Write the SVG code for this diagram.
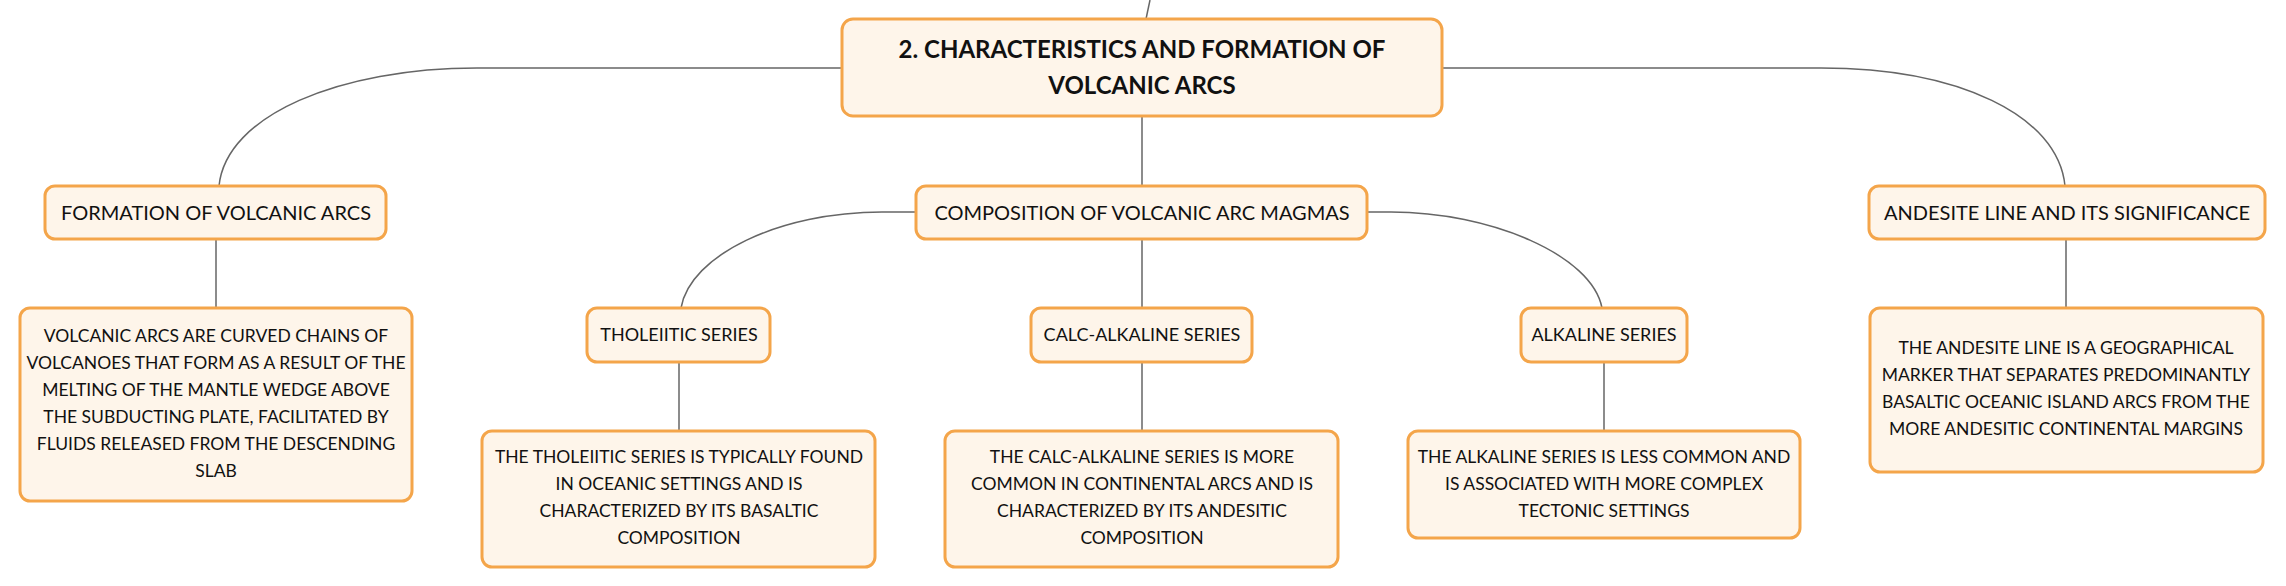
<svg xmlns="http://www.w3.org/2000/svg" width="2286" height="586" viewBox="0 0 2286 586">
<defs>
<style>
.box{fill:#FEF5EA;stroke:#F4A54A;stroke-width:3}
.t{font-family:Lato,"Open Sans",sans-serif;fill:#111;text-anchor:middle}
.root{font-size:24px;font-weight:bold}
.l2{font-size:20px}
.l3{font-size:18px}
.d{font-size:17.5px}
.c{fill:none;stroke:#666;stroke-width:1.5}
</style>
</defs>
<rect width="2286" height="586" fill="#fff"/>
<g id="connectors">
<path class="c" d="M1150,0 L1146,19"/>
<path class="c" d="M842,68 H477 C340,68 226,115 219,186"/>
<path class="c" d="M1442,68 H1821 C1958,68 2058,115 2065,186"/>
<path class="c" d="M1142,116 V186"/>
<path class="c" d="M216,239 V308"/>
<path class="c" d="M2066,239 V308"/>
<path class="c" d="M916,212 H882 C780,212 690,255 681,308"/>
<path class="c" d="M1367,212 H1391 C1490,212 1592,255 1602,308"/>
<path class="c" d="M1142,239 V308"/>
<path class="c" d="M679,362 V431"/>
<path class="c" d="M1142,362 V431"/>
<path class="c" d="M1604,362 V431"/>
</g>
<g id="root">
<rect class="box" x="842" y="19" width="600" height="97" rx="11"/>
<text class="t root" x="1142" y="58">2. CHARACTERISTICS AND FORMATION OF</text>
<text class="t root" x="1142" y="94">VOLCANIC ARCS</text>
</g>
<g id="formation">
<rect class="box" x="45" y="186" width="341" height="53" rx="10"/>
<text class="t l2" x="216" y="220">FORMATION OF VOLCANIC ARCS</text>
</g>
<g id="composition">
<rect class="box" x="916" y="186" width="451" height="53" rx="10"/>
<text class="t l2" x="1142" y="220">COMPOSITION OF VOLCANIC ARC MAGMAS</text>
</g>
<g id="andesite">
<rect class="box" x="1869" y="186" width="396" height="53" rx="10"/>
<text class="t l2" x="2067" y="220">ANDESITE LINE AND ITS SIGNIFICANCE</text>
</g>
<g id="formation-desc">
<rect class="box" x="20" y="308" width="392" height="193" rx="10"/>
<text class="t d" x="216" y="342">VOLCANIC ARCS ARE CURVED CHAINS OF</text>
<text class="t d" x="216" y="369">VOLCANOES THAT FORM AS A RESULT OF THE</text>
<text class="t d" x="216" y="396">MELTING OF THE MANTLE WEDGE ABOVE</text>
<text class="t d" x="216" y="423">THE SUBDUCTING PLATE, FACILITATED BY</text>
<text class="t d" x="216" y="450">FLUIDS RELEASED FROM THE DESCENDING</text>
<text class="t d" x="216" y="477">SLAB</text>
</g>
<g id="andesite-desc">
<rect class="box" x="1870" y="308" width="393" height="164" rx="10"/>
<text class="t d" x="2066" y="354">THE ANDESITE LINE IS A GEOGRAPHICAL</text>
<text class="t d" x="2066" y="381">MARKER THAT SEPARATES PREDOMINANTLY</text>
<text class="t d" x="2066" y="408">BASALTIC OCEANIC ISLAND ARCS FROM THE</text>
<text class="t d" x="2066" y="435">MORE ANDESITIC CONTINENTAL MARGINS</text>
</g>
<g id="tholeiitic">
<rect class="box" x="587" y="308" width="183" height="54" rx="10"/>
<text class="t l3" x="679" y="341">THOLEIITIC SERIES</text>
</g>
<g id="calc-alkaline">
<rect class="box" x="1031" y="308" width="221" height="54" rx="10"/>
<text class="t l3" x="1142" y="341">CALC-ALKALINE SERIES</text>
</g>
<g id="alkaline">
<rect class="box" x="1521" y="308" width="166" height="54" rx="10"/>
<text class="t l3" x="1604" y="341">ALKALINE SERIES</text>
</g>
<g id="tholeiitic-desc">
<rect class="box" x="482" y="431" width="393" height="136" rx="10"/>
<text class="t d" x="679" y="463">THE THOLEIITIC SERIES IS TYPICALLY FOUND</text>
<text class="t d" x="679" y="490">IN OCEANIC SETTINGS AND IS</text>
<text class="t d" x="679" y="517">CHARACTERIZED BY ITS BASALTIC</text>
<text class="t d" x="679" y="544">COMPOSITION</text>
</g>
<g id="calc-alkaline-desc">
<rect class="box" x="945" y="431" width="393" height="136" rx="10"/>
<text class="t d" x="1142" y="463">THE CALC-ALKALINE SERIES IS MORE</text>
<text class="t d" x="1142" y="490">COMMON IN CONTINENTAL ARCS AND IS</text>
<text class="t d" x="1142" y="517">CHARACTERIZED BY ITS ANDESITIC</text>
<text class="t d" x="1142" y="544">COMPOSITION</text>
</g>
<g id="alkaline-desc">
<rect class="box" x="1408" y="431" width="392" height="107" rx="10"/>
<text class="t d" x="1604" y="463">THE ALKALINE SERIES IS LESS COMMON AND</text>
<text class="t d" x="1604" y="490">IS ASSOCIATED WITH MORE COMPLEX</text>
<text class="t d" x="1604" y="517">TECTONIC SETTINGS</text>
</g>
</svg>
